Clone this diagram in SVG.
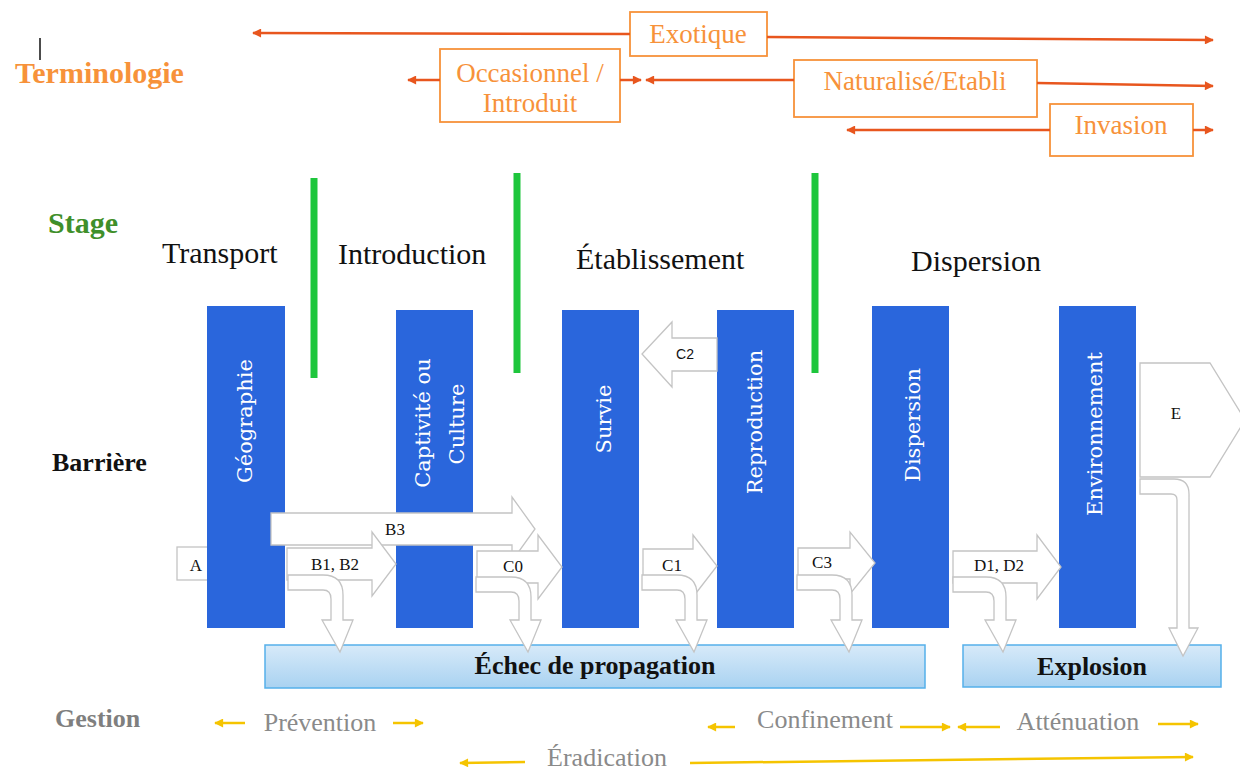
<svg xmlns="http://www.w3.org/2000/svg" width="1240" height="770" viewBox="0 0 1240 770">
<style>
text{font-family:"Liberation Serif","Times New Roman",serif}
.term{font-family:"Liberation Serif","Times New Roman",serif;fill:#f7923a;font-size:27px;text-anchor:middle}
.obox{fill:#fff;stroke:#f7923a;stroke-width:1.8}
.oline{stroke:#e8561e;stroke-width:2.5;fill:none}
.yline{stroke:#f5c400;stroke-width:2.5;fill:none}
.stage{font-family:"Liberation Serif","Times New Roman",serif;font-size:30px;fill:#111}
.bar{fill:#2a66dc}
.blabel{font-family:"DejaVu Serif","Liberation Serif",serif;font-size:21px;fill:#fff;text-anchor:middle}
.garrow{fill:#fff;stroke:#c4c4c4;stroke-width:1.3}
.lbl{font-family:"Liberation Serif","Times New Roman",serif;font-size:17px;fill:#111;text-anchor:middle}
.green{stroke:#1ec63c;stroke-width:7}
.gest{font-family:"Liberation Serif","Times New Roman",serif;font-size:26px;fill:#8a8a8a;text-anchor:middle}
.bottom{fill:url(#bluegrad);stroke:#55b0ea;stroke-width:1.5}
.btxt{font-family:"Liberation Serif","Times New Roman",serif;font-size:26px;font-weight:bold;fill:#111;text-anchor:middle}
.hdr{font-family:"Liberation Serif","Times New Roman",serif;font-weight:bold}
</style>
<defs>
<marker id="oarrow" viewBox="0 0 10 10" refX="9" refY="5" markerWidth="10" markerHeight="9" markerUnits="userSpaceOnUse" orient="auto">
<path d="M0,0 L10,5 L0,10 Z" fill="#e8561e"/>
</marker>
<marker id="yarrow" viewBox="0 0 10 10" refX="9" refY="5" markerWidth="10" markerHeight="9" markerUnits="userSpaceOnUse" orient="auto">
<path d="M0,0 L10,5 L0,10 Z" fill="#f5c400"/>
</marker>
<linearGradient id="bluegrad" x1="0" y1="0" x2="0" y2="1">
<stop offset="0" stop-color="#d7eaf9"/>
<stop offset="1" stop-color="#a9d2f1"/>
</linearGradient>
</defs>
<rect width="1240" height="770" fill="#fff"/>

<g id="headers">
<line x1="40" y1="38" x2="40" y2="60" stroke="#111" stroke-width="1.5"/>
<text class="hdr" x="15" y="83" font-size="30" fill="#f7923a">Terminologie</text>
<text class="hdr" x="48" y="233" font-size="30" fill="#3f8f2a">Stage</text>
<text class="hdr" x="52" y="471" font-size="26" fill="#111">Barrière</text>
<text class="hdr" x="55" y="727" font-size="26" fill="#7f7f7f">Gestion</text>
</g>

<g id="terminology">
<g id="exotique">
<rect class="obox" x="630" y="12" width="137" height="44"/>
<text class="term" x="698" y="43">Exotique</text>
</g>
<g id="occasionnel">
<rect class="obox" x="440" y="49" width="180" height="73"/>
<text class="term" x="530" y="82">Occasionnel /</text>
<text class="term" x="530" y="112">Introduit</text>
</g>
<g id="naturalise">
<rect class="obox" x="794" y="60" width="243" height="57"/>
<text class="term" x="915" y="90">Naturalisé/Etabli</text>
</g>
<g id="invasion">
<rect class="obox" x="1050" y="104" width="143" height="52"/>
<text class="term" x="1121" y="134">Invasion</text>
</g>
</g>

<g id="terminology-arrows">
<line class="oline" x1="630" y1="34" x2="253" y2="33" marker-end="url(#oarrow)"/>
<line class="oline" x1="767" y1="37" x2="1213" y2="40" marker-end="url(#oarrow)"/>
<line class="oline" x1="440" y1="80" x2="408" y2="80" marker-end="url(#oarrow)"/>
<line class="oline" x1="620" y1="80" x2="641" y2="80" marker-end="url(#oarrow)"/>
<line class="oline" x1="794" y1="80" x2="646" y2="80" marker-end="url(#oarrow)"/>
<line class="oline" x1="1037" y1="83" x2="1213" y2="86" marker-end="url(#oarrow)"/>
<line class="oline" x1="1050" y1="130" x2="847" y2="130" marker-end="url(#oarrow)"/>
<line class="oline" x1="1193" y1="130" x2="1213" y2="130" marker-end="url(#oarrow)"/>
</g>

<g id="stages">
<text class="stage" x="162" y="263">Transport</text>
<text class="stage" x="338" y="264">Introduction</text>
<text class="stage" x="576" y="269">Établissement</text>
<text class="stage" x="911" y="271">Dispersion</text>
</g>

<g id="stage-dividers">
<line class="green" x1="314" y1="178" x2="314" y2="378"/>
<line class="green" x1="517" y1="173" x2="517" y2="373"/>
<line class="green" x1="815" y1="173" x2="815" y2="373"/>
</g>

<g id="node-A">
<rect class="garrow" x="177" y="547" width="32" height="33"/>
<text class="lbl" x="196" y="571">A</text>
</g>

<g id="bar-geographie">
<rect class="bar" x="207" y="306" width="78" height="322"/>
<text class="blabel" transform="translate(252,421) rotate(-90)">Géographie</text>
</g>
<g id="bar-captivite">
<rect class="bar" x="396" y="310" width="77" height="318"/>
<text class="blabel" transform="translate(430,423) rotate(-90)">Captivité ou</text>
<text class="blabel" transform="translate(464,424) rotate(-90)">Culture</text>
</g>
<g id="bar-survie">
<rect class="bar" x="562" y="310" width="77" height="318"/>
<text class="blabel" transform="translate(611,419) rotate(-90)">Survie</text>
</g>
<g id="bar-reproduction">
<rect class="bar" x="717" y="310" width="77" height="318"/>
<text class="blabel" transform="translate(762,422) rotate(-90)">Reproduction</text>
</g>
<g id="bar-dispersion">
<rect class="bar" x="872" y="306" width="77" height="322"/>
<text class="blabel" transform="translate(920,425) rotate(-90)">Dispersion</text>
</g>
<g id="bar-environnement">
<rect class="bar" x="1059" y="306" width="77" height="322"/>
<text class="blabel" transform="translate(1102,434) rotate(-90)">Environnement</text>
</g>

<g id="bottom-bars">
<g id="echec">
<rect class="bottom" x="265" y="645" width="660" height="43"/>
<text class="btxt" x="595" y="674">Échec de propagation</text>
</g>
<g id="explosion">
<rect class="bottom" x="963" y="645" width="258" height="42"/>
<text class="btxt" x="1092" y="675">Explosion</text>
</g>
</g>

<g id="connectors">
<g id="arrow-B3">
<path class="garrow" d="M271,513 H512 V497 L535,529 L512,561 V545 H271 Z"/>
<text class="lbl" x="395" y="535">B3</text>
</g>
<g id="arrow-B1B2">
<path class="garrow" d="M287,548 H372 V532 L396,564 L372,596 V580 H287 Z"/>
<text class="lbl" x="335" y="570">B1, B2</text>
</g>
<g id="arrow-C0">
<path class="garrow" d="M477,551 H538 V535 L562,567 L538,599 V583 H477 Z"/>
<text class="lbl" x="513" y="572">C0</text>
</g>
<g id="arrow-C1">
<path class="garrow" d="M643,549 H693 V535 L717,566 L693,597 V582 H643 Z"/>
<text class="lbl" x="672" y="571">C1</text>
</g>
<g id="arrow-C3">
<path class="garrow" d="M798,548 H850 V532 L875,563 L850,594 V579 H798 Z"/>
<text class="lbl" x="822" y="568">C3</text>
</g>
<g id="arrow-D1D2">
<path class="garrow" d="M953,551 H1037 V535 L1061,567 L1037,599 V583 H953 Z"/>
<text class="lbl" x="999" y="571">D1, D2</text>
</g>
<g id="arrow-C2">
<path class="garrow" d="M717,338 H672 V322 L642,354 L672,387 V371 H717 Z"/>
<text x="685" y="359" style="font-family:'Liberation Sans',Arial,sans-serif" font-size="14" fill="#111" text-anchor="middle">C2</text>
</g>
<g id="arrow-E">
<path class="garrow" d="M1140,363 H1210 L1245,420 L1210,477 H1140 Z"/>
<text class="lbl" x="1176" y="419" font-size="19">E</text>
</g>
<g id="bent-arrows">
<path class="garrow" d="M288,575 H323 Q343,575 343,595 V620 H353 L340,652 L322,620 H331 V599 Q331,590 323,590 H288 Z"/>
<path class="garrow" d="M476,577 H511 Q531,577 531,597 V620 H541 L528,652 L510,620 H519 V601 Q519,592 511,592 H476 Z"/>
<path class="garrow" d="M642,575 H677 Q697,575 697,595 V620 H707 L694,652 L676,620 H685 V599 Q685,590 677,590 H642 Z"/>
<path class="garrow" d="M797,575 H832 Q852,575 852,595 V620 H862 L849,652 L831,620 H840 V599 Q840,590 832,590 H797 Z"/>
<path class="garrow" d="M953,577 H986 Q1006,577 1006,597 V620 H1016 L1003,652 L985,620 H994 V601 Q994,592 986,592 H953 Z"/>
<path class="garrow" d="M1140,479 H1174 Q1189,479 1189,494 V628 H1198 L1183,656 L1169,628 H1177 V500 Q1177,494 1171,494 H1140 Z"/>
</g>
</g>

<g id="gestion">
<text class="gest" x="320" y="731">Prévention</text>
<text class="gest" x="825" y="728">Confinement</text>
<text class="gest" x="1078" y="730">Atténuation</text>
<text class="gest" x="607" y="766">Éradication</text>
</g>

<g id="gestion-arrows">
<line class="yline" x1="245" y1="723" x2="215" y2="723" marker-end="url(#yarrow)"/>
<line class="yline" x1="393" y1="723" x2="423" y2="723" marker-end="url(#yarrow)"/>
<line class="yline" x1="735" y1="727" x2="708" y2="727" marker-end="url(#yarrow)"/>
<line class="yline" x1="900" y1="727" x2="950" y2="727" marker-end="url(#yarrow)"/>
<line class="yline" x1="1000" y1="727" x2="958" y2="727" marker-end="url(#yarrow)"/>
<line class="yline" x1="1158" y1="724" x2="1198" y2="724" marker-end="url(#yarrow)"/>
<line class="yline" x1="525" y1="762" x2="460" y2="763" marker-end="url(#yarrow)"/>
<line class="yline" x1="690" y1="763" x2="1193" y2="757" marker-end="url(#yarrow)"/>
</g>
</svg>
